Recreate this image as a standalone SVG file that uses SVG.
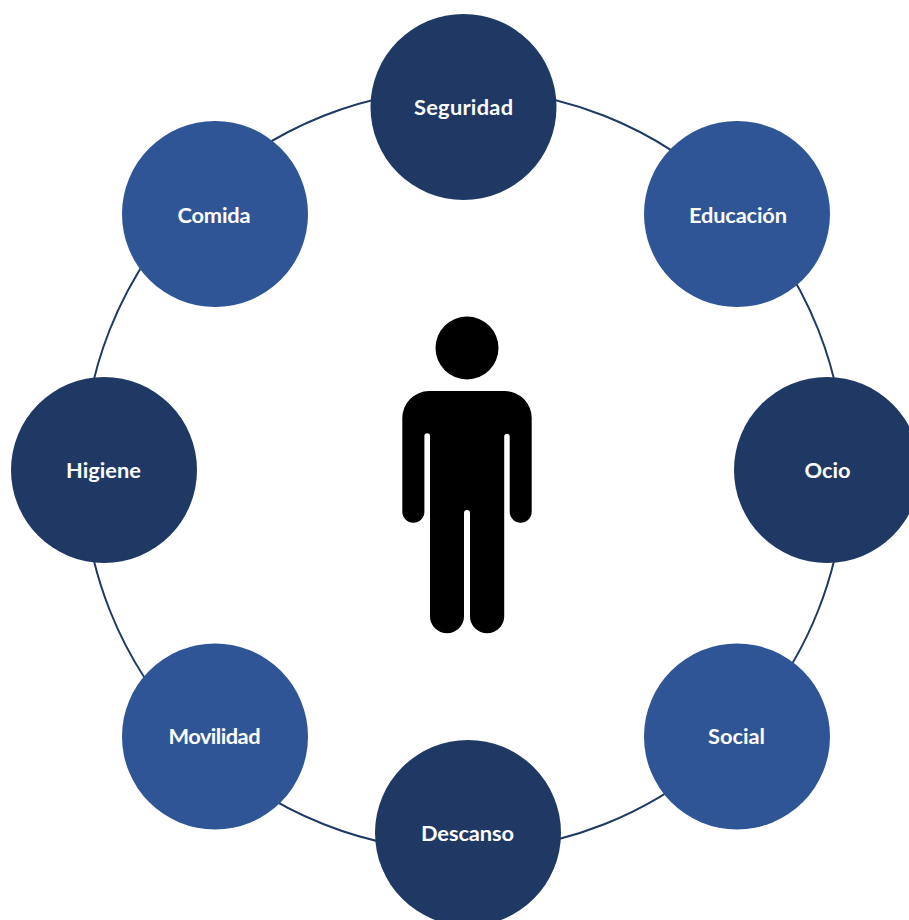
<svg xmlns="http://www.w3.org/2000/svg" width="909" height="920" viewBox="0 0 909 920">
<style>
.a{fill:#1f3864}.b{fill:#2f5597}
text{font-family:"Lato","Open Sans","Liberation Sans",sans-serif;font-weight:700;font-size:21.800px;fill:#fff;text-anchor:middle}
</style>
<rect width="909" height="920" fill="#fff"/>
<g id="connectors"><circle cx="464" cy="470" r="381" fill="none" stroke="#1f3864" stroke-width="2"/></g>
<g id="seguridad"><circle class="a" cx="463.500" cy="107" r="93"/><text x="463.500" y="115" textLength="99">Seguridad</text></g>
<g id="educacion"><circle class="b" cx="737" cy="214" r="93"/><text x="738" y="222.500" textLength="98">Educación</text></g>
<g id="ocio"><circle class="a" cx="827" cy="470" r="93"/><text x="827.500" y="477.500">Ocio</text></g>
<g id="social"><circle class="b" cx="737" cy="736.500" r="93"/><text x="736.500" y="744">Social</text></g>
<g id="descanso"><circle class="a" cx="468" cy="833" r="93"/><text x="467.500" y="840.500" textLength="93">Descanso</text></g>
<g id="movilidad"><circle class="b" cx="215" cy="736.500" r="93"/><text x="214.500" y="744" textLength="92">Movilidad</text></g>
<g id="higiene"><circle class="a" cx="104" cy="470" r="93"/><text x="103.500" y="477.500">Higiene</text></g>
<g id="comida"><circle class="b" cx="215" cy="214" r="93"/><text x="214" y="222.500" textLength="73">Comida</text></g>
<g id="person">
<circle cx="467" cy="348" r="31.500" fill="#000"/>
<path fill="#000" d="M429 391H505A27 27 0 0 1 531.700 418V511.700A11 11 0 0 1 509.700 511.700V436A2.800 2.800 0 0 0 504.200 436V616.200A17.100 17.100 0 0 1 470 616.200V513A3 3 0 0 0 464 513V616.200A17 17 0 0 1 430 616.200V436A2.800 2.800 0 0 0 424.400 436V511.700A11.050 11.050 0 0 1 402.300 511.700V418A27 27 0 0 1 429 391Z"/>
</g>
</svg>
